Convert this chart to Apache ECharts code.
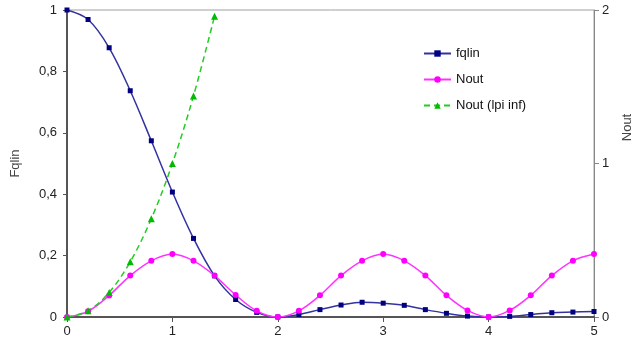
<!DOCTYPE html>
<html>
<head>
<meta charset="utf-8">
<script src="https://cdn.jsdelivr.net/npm/echarts@6/dist/echarts.min.js"></script>
<style>html,body{margin:0;padding:0;background:#fff;}#c{width:633px;height:351px;}</style>
</head>
<body>
<div id="c"></div>
<script>
var xValues = [0, 0.2, 0.4, 0.6, 0.8, 1.0, 1.2, 1.4, 1.6, 1.8, 2.0, 2.2, 2.4, 2.6, 2.8, 3.0, 3.2, 3.4, 3.6, 3.8, 4.0, 4.2, 4.4, 4.6, 4.8, 5.0];
var fqlin = [1, 0.969, 0.877, 0.737, 0.574, 0.407, 0.256, 0.134, 0.057, 0.015, 0, 0.008, 0.024, 0.039, 0.048, 0.045, 0.038, 0.024, 0.012, 0.003, 0, 0.002, 0.008, 0.014, 0.016, 0.018];
var nout = [0, 0.037, 0.14, 0.27, 0.366, 0.41, 0.366, 0.27, 0.144, 0.04, 0, 0.04, 0.141, 0.27, 0.366, 0.41, 0.366, 0.27, 0.141, 0.043, 0, 0.043, 0.141, 0.27, 0.366, 0.41];
var xLpiInf = [0, 0.2, 0.4, 0.6, 0.8, 1.0, 1.2, 1.4];
var noutLpiInf = [0, 0.04, 0.16, 0.36, 0.64, 1.0, 1.44, 1.96];
var seriesNames = ['fqlin', 'Nout', 'Nout (lpi inf)'];

function pairs(xs, ys) { return xs.map(function (x, i) { return [x, ys[i]]; }); }
var font = 'Liberation Sans, Arial, sans-serif';
var chart = echarts.init(document.getElementById('c'));
chart.setOption({
  animation: false,
  backgroundColor: '#fff',
  grid: { left: 67, right: 39, top: 10, bottom: 34, show: true, borderColor: '#a0a0a0', borderWidth: 1,
          containLabel: false, outerBoundsMode: 'none' },
  legend: {
    orient: 'vertical', left: 418, top: 42, itemWidth: 27, itemHeight: 8, itemGap: 13,
    textStyle: { fontFamily: font, fontSize: 13, color: '#111' },
    data: seriesNames
  },
  xAxis: {
    type: 'value', min: 0, max: 5, interval: 1,
    axisLine: { lineStyle: { color: '#555', width: 2 } },
    axisTick: { show: true, length: 5, lineStyle: { color: '#555' } },
    axisLabel: { fontFamily: font, fontSize: 13, color: '#222', margin: 8 },
    splitLine: { show: false }
  },
  yAxis: [{
    type: 'value', min: 0, max: 1, interval: 0.2, position: 'left',
    name: 'Fqlin', nameLocation: 'middle', nameGap: 45,
    nameTextStyle: { fontFamily: font, fontSize: 13, color: '#444' },
    axisLine: { show: true, lineStyle: { color: '#555', width: 2 } },
    axisTick: { show: true, length: 4, lineStyle: { color: '#555' } },
    axisLabel: { fontFamily: font, fontSize: 13, color: '#222', margin: 10,
      formatter: function (v) { return String(+v.toFixed(1)).replace('.', ','); } },
    splitLine: { show: false }
  }, {
    type: 'value', min: 0, max: 2, interval: 1, position: 'right',
    name: 'Nout', nameLocation: 'middle', nameGap: 27, nameRotate: 90,
    nameTextStyle: { fontFamily: font, fontSize: 13, color: '#444', padding: [0, 0, 0, 72] },
    axisLine: { show: true, lineStyle: { color: '#888', width: 1 } },
    axisTick: { show: true, length: 5, lineStyle: { color: '#888' } },
    axisLabel: { fontFamily: font, fontSize: 13, color: '#222', margin: 8 },
    splitLine: { show: false }
  }],
  series: [{
    name: seriesNames[0], type: 'line', yAxisIndex: 0, smooth: 0.35,
    data: pairs(xValues, fqlin),
    symbol: 'rect', symbolSize: 5,
    lineStyle: { color: '#3333a0', width: 1.5 },
    itemStyle: { color: '#000080' }
  }, {
    name: seriesNames[1], type: 'line', yAxisIndex: 1, smooth: 0.35,
    data: pairs(xValues, nout),
    symbol: 'circle', symbolSize: 6,
    lineStyle: { color: '#ff33ff', width: 1.5 },
    itemStyle: { color: '#ff00ff' }
  }, {
    name: seriesNames[2], type: 'line', yAxisIndex: 1, smooth: 0.35,
    data: pairs(xLpiInf, noutLpiInf),
    symbol: 'triangle', symbolSize: 7,
    lineStyle: { color: '#22cc22', width: 1.5, type: [6, 4] },
    itemStyle: { color: '#00bb00' }
  }]
});
</script>
</body>
</html>
